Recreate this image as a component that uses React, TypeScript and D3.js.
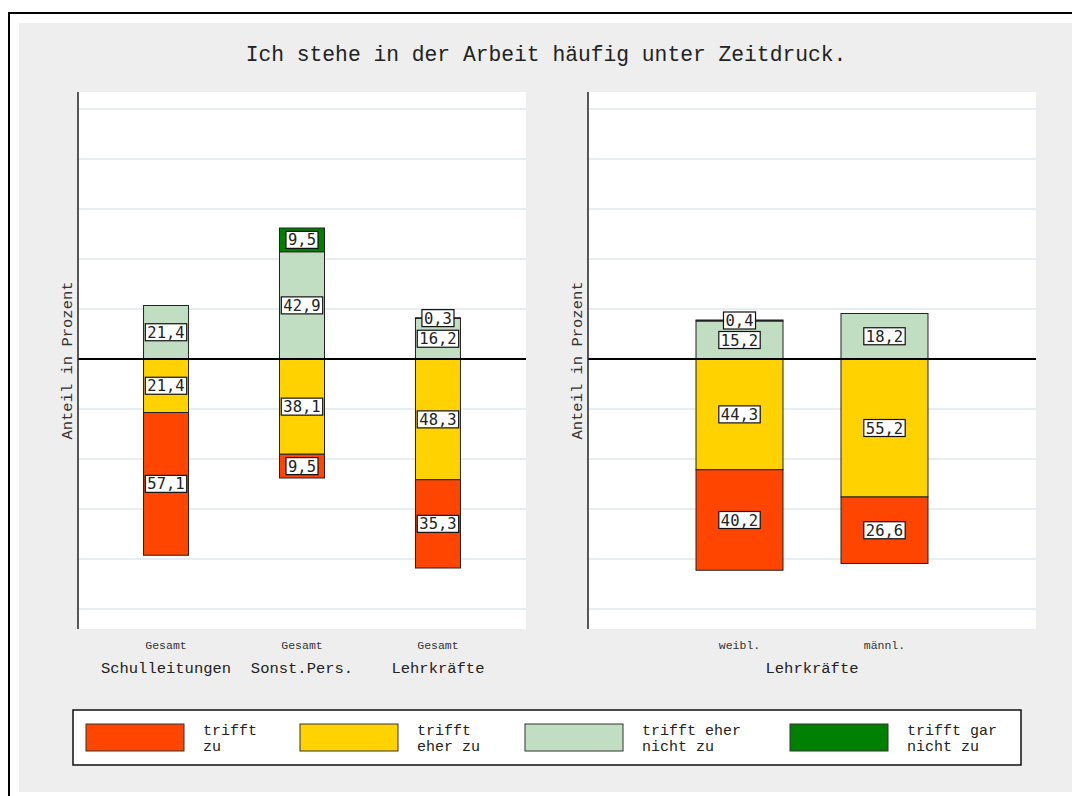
import React from "react";
import * as d3 from "d3";

const title = "Ich stehe in der Arbeit häufig unter Zeitdruck.";
const yTitle = "Anteil in Prozent";

const leftGroups = ["Schulleitungen", "Sonst.Pers.", "Lehrkräfte"];
const leftSub = ["Gesamt", "Gesamt", "Gesamt"];
const leftTrifftZu = [57.1, 9.5, 35.3];
const leftEherZu = [21.4, 38.1, 48.3];
const leftEherNicht = [21.4, 42.9, 16.2];
const leftGarNicht = [0, 9.5, 0.3];

const rightGroup = "Lehrkräfte";
const rightSub = ["weibl.", "männl."];
const rightTrifftZu = [40.2, 26.6];
const rightEherZu = [44.3, 55.2];
const rightEherNicht = [15.2, 18.2];
const rightGarNicht = [0.4, 0];

const legendLabels = [
  ["trifft", "zu"],
  ["trifft", "eher zu"],
  ["trifft eher", "nicht zu"],
  ["trifft gar", "nicht zu"],
];
const colors = ["#ff4500", "#ffd200", "#c1dec3", "#008000"];
const gridValues = [-100, -80, -60, -40, -20, 20, 40, 60, 80, 100];

const MONO = "'Liberation Mono', 'Courier New', monospace";
const VMONO = "'DejaVu Sans Mono', monospace";

const fmt = (v: number) => d3.format(".1f")(v).replace(".", ",");

type Seg = { y0: number; y1: number; v: number; c: string };

function buildSegs(tz: number, ez: number, en: number, gn: number): Seg[] {
  return [
    { y0: -ez, y1: 0, v: ez, c: colors[1] },
    { y0: -ez - tz, y1: -ez, v: tz, c: colors[0] },
    { y0: 0, y1: en, v: en, c: colors[2] },
    { y0: en, y1: en + gn, v: gn, c: colors[3] },
  ];
}

const y = d3.scaleLinear().domain([-108, 106.8]).range([629, 92]);

function Panel(props: {
  x0: number;
  x1: number;
  cats: string[];
  sub: string[];
  tz: number[];
  ez: number[];
  en: number[];
  gn: number[];
  pi: number;
  po: number;
}) {
  const { x0, x1, cats, sub, tz, ez, en, gn } = props;
  const ids = cats.map((_, i) => String(i));
  const x = d3.scaleBand().domain(ids).range([x0, x1]).paddingInner(props.pi).paddingOuter(props.po);
  const bw = x.bandwidth();
  const [top, bottom] = [y(106.8), y(-108)];
  return (
    <g>
      <rect x={x0} y={top} width={x1 - x0} height={bottom - top} fill="#ffffff" />
      {gridValues.map((g) => (
        <line key={g} x1={x0} x2={x1} y1={y(g)} y2={y(g)} stroke="#e7eef1" strokeWidth={2} />
      ))}
      {ids.map((id, i) => {
        const segs = buildSegs(tz[i], ez[i], en[i], gn[i]).filter((s) => s.v > 0);
        const bx = x(id)!;
        return (
          <g key={id}>
            {segs.map((s, k) => (
              <rect
                key={k}
                x={bx}
                y={y(s.y1)}
                width={bw}
                height={y(s.y0) - y(s.y1)}
                fill={s.c}
                stroke="#222"
                strokeWidth={1}
              />
            ))}
          </g>
        );
      })}
      <line x1={x0} x2={x1} y1={y(0)} y2={y(0)} stroke="#000" strokeWidth={2} />
      {ids.map((id, i) => {
        const segs = buildSegs(tz[i], ez[i], en[i], gn[i]).filter((s) => s.v > 0);
        const cx = x(id)! + bw / 2;
        return (
          <g key={"l" + id}>
            {segs.map((s, k) => {
              const t = fmt(s.v);
              const w = t.length * 9.35 + 4;
              const cy = y((s.y0 + s.y1) / 2);
              return (
                <g key={k}>
                  <rect x={cx - w / 2} y={cy - 8.5} width={w} height={17} fill="#fff" stroke="#111" strokeWidth={1.2} />
                  <text x={cx} y={cy + 5.5} textAnchor="middle" fontFamily={VMONO} fontSize={15.5} fill="#222">
                    {t}
                  </text>
                </g>
              );
            })}
            <text x={cx} y={649} textAnchor="middle" fontFamily={MONO} fontSize={11.5} fill="#333">
              {sub[i]}
            </text>
          </g>
        );
      })}
      <line x1={x0} x2={x0} y1={top} y2={bottom} stroke="#222" strokeWidth={1.5} />
      <text
        transform={`translate(${x0 - 6},${(top + bottom) / 2}) rotate(-90)`}
        textAnchor="middle"
        fontFamily={MONO}
        fontSize={15.5}
        fill="#333"
      >
        {yTitle}
      </text>
    </g>
  );
}

export default function App() {
  const leftX = d3.scaleBand().domain(["0", "1", "2"]).range([78, 526]).paddingInner(0.669).paddingOuter(0.482);
  return (
    <svg width={1072} height={796} style={{ position: "absolute", left: 0, top: 0 }}>
      <rect x={0} y={0} width={1072} height={796} fill="#fff" />
      <rect x={9} y={13} width={1080} height={800} fill="#fff" stroke="#000" strokeWidth={2} />
      <rect x={19} y={23} width={1060} height={769} fill="#eeeeee" />
      <text x={546} y={61} textAnchor="middle" fontFamily={MONO} fontSize={21.3} fill="#222">
        {title}
      </text>
      <Panel
        x0={78}
        x1={526}
        cats={leftGroups}
        sub={leftSub}
        tz={leftTrifftZu}
        ez={leftEherZu}
        en={leftEherNicht}
        gn={leftGarNicht}
        pi={0.669}
        po={0.482}
      />
      {leftGroups.map((g, i) => (
        <text
          key={g}
          x={leftX(String(i))! + leftX.bandwidth() / 2}
          y={673}
          textAnchor="middle"
          fontFamily={MONO}
          fontSize={15.5}
          fill="#222"
        >
          {g}
        </text>
      ))}
      <Panel
        x0={588}
        x1={1036}
        cats={rightSub}
        sub={rightSub}
        tz={rightTrifftZu}
        ez={rightEherZu}
        en={rightEherNicht}
        gn={rightGarNicht}
        pi={0.4}
        po={0.745}
      />
      <text x={(588 + 1036) / 2} y={673} textAnchor="middle" fontFamily={MONO} fontSize={15.5} fill="#222">
        {rightGroup}
      </text>
      <g>
        <rect x={73} y={710} width={948} height={55} fill="#fff" stroke="#111" strokeWidth={1.5} />
        {legendLabels.map((lab, i) => {
          const sx = [86, 300, 525, 790][i];
          return (
            <g key={i}>
              <rect x={sx} y={724} width={98} height={27} fill={colors[i]} stroke="#333" strokeWidth={1} />
              <text x={sx + 117} y={735} fontFamily={MONO} fontSize={15} fill="#222">
                {lab[0]}
              </text>
              <text x={sx + 117} y={751} fontFamily={MONO} fontSize={15} fill="#222">
                {lab[1]}
              </text>
            </g>
          );
        })}
      </g>
    </svg>
  );
}
